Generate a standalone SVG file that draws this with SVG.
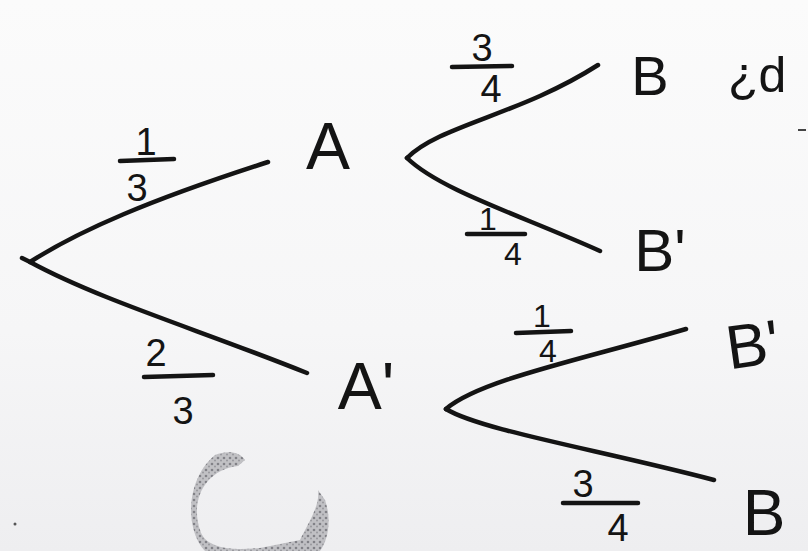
<svg xmlns="http://www.w3.org/2000/svg" width="808" height="551" viewBox="0 0 808 551">
<defs>
<linearGradient id="bg" x1="0" y1="0" x2="0" y2="1">
<stop offset="0" stop-color="#fbfbfb"/>
<stop offset="0.6" stop-color="#f6f6f7"/>
<stop offset="1" stop-color="#eeeef0"/>
</linearGradient>
<pattern id="stip" width="6" height="6" patternUnits="userSpaceOnUse">
<rect width="6" height="6" fill="#b8b8bc"/>
<circle cx="2" cy="2" r="1.3" fill="#6e6e74"/>
<circle cx="5" cy="4.5" r="1" fill="#88888e"/>
</pattern>
</defs>
<style>
.ln{fill:none;stroke:#141414;stroke-width:4.5;stroke-linecap:round}
.bar{stroke:#141414;stroke-width:4.5;stroke-linecap:round}
.lab{font-family:"Liberation Sans",Arial,sans-serif;fill:#141414;text-anchor:middle}
.node{font-size:66px}
.dig{font-size:38px}
</style>
<rect width="808" height="551" fill="url(#bg)"/>
<path d="M238,466 C205,470 190,500 200,530 C205,548 230,551 260,548 L300,540 C310,520 320,505 318,490 L325,500 C332,520 328,540 320,551 L205,551 C185,530 185,480 215,455 C228,450 240,452 245,460 Z" fill="url(#stip)" opacity="0.85"/>
<circle cx="15" cy="524" r="1.5" fill="#555"/>
<line x1="798" y1="130" x2="806" y2="130" stroke="#444" stroke-width="2"/>
<g id="connectors">
<path class="ln" d="M22,258 L30,262 C80,230 150,200 268,162"/>
<path class="ln" d="M30,262 C100,300 200,330 307,373"/>
<path class="ln" d="M407,158 C440,125 520,115 598,65"/>
<path class="ln" d="M407,158 C440,190 520,215 600,251"/>
<path class="ln" d="M446,409 C480,380 580,360 686,329"/>
<path class="ln" d="M446,409 C480,430 600,450 714,480"/>
<g id="p-root-A">
<text class="lab dig" x="146" y="155">1</text>
<line class="bar" x1="120" y1="161" x2="174" y2="159"/>
<text class="lab dig" x="137" y="201">3</text>
</g>
<g id="p-root-A2">
<text class="lab dig" x="156" y="366">2</text>
<line class="bar" x1="144" y1="377" x2="213" y2="375"/>
<text class="lab dig" x="183" y="424">3</text>
</g>
<g id="p-A-B">
<text class="lab dig" x="482" y="61">3</text>
<line class="bar" x1="452" y1="67" x2="512" y2="66"/>
<text class="lab dig" x="491" y="102">4</text>
</g>
<g id="p-A-B2">
<text class="lab dig" style="font-size:32px" x="488" y="230">1</text>
<line class="bar" x1="467" y1="234" x2="525" y2="234"/>
<text class="lab dig" style="font-size:32px" x="513" y="265">4</text>
</g>
<g id="p-A2-B2">
<text class="lab dig" style="font-size:32px" x="542" y="327">1</text>
<line class="bar" x1="516" y1="333" x2="571" y2="331"/>
<text class="lab dig" style="font-size:32px" x="548" y="362">4</text>
</g>
<g id="p-A2-B">
<text class="lab dig" x="583" y="497">3</text>
<line class="bar" x1="563" y1="503" x2="638" y2="503"/>
<text class="lab dig" x="618" y="541">4</text>
</g>
</g>
<g id="node-A"><text class="lab node" x="328" y="169">A</text></g>
<g id="node-A2"><text class="lab node" x="366" y="409">A'</text></g>
<g id="node-B-top"><text class="lab" style="font-size:56px" x="650" y="95">B</text><text class="lab" style="font-size:50px;text-anchor:start" x="728" y="92">¿d</text></g>
<g id="node-B2-top"><text class="lab" style="font-size:60px" x="660" y="271">B'</text></g>
<g id="node-B2-bot"><text class="lab" style="font-size:62px" x="752" y="366" transform="rotate(-8 752 340)">B'</text></g>
<g id="node-B-bot"><text class="lab" style="font-size:64px" x="764" y="535">B</text></g>
</svg>
